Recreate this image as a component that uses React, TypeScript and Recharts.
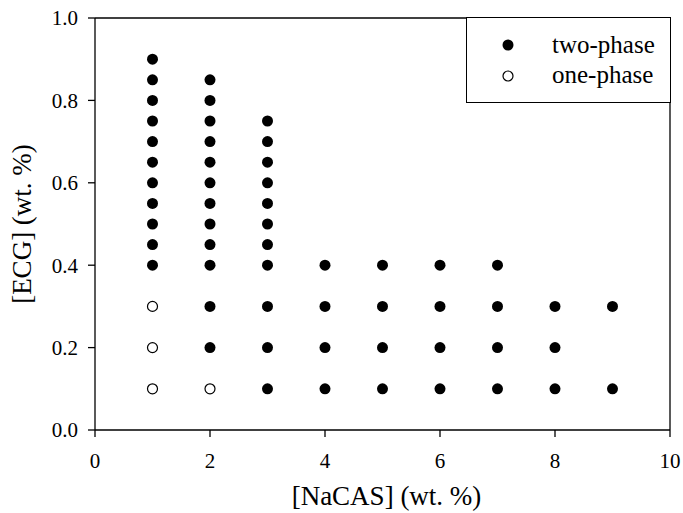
import {
  ScatterChart,
  Scatter,
  XAxis,
  YAxis,
  ReferenceLine,
  Label,
} from 'recharts';

// [NaCAS] wt.% vs [ECG] wt.% phase diagram
const twoPhaseX = [
  1, 1, 1, 1, 1, 1, 1, 1, 1, 1, 1,
  2, 2, 2, 2, 2, 2, 2, 2, 2, 2, 2, 2,
  3, 3, 3, 3, 3, 3, 3, 3, 3, 3, 3,
  4, 4, 4, 4,
  5, 5, 5, 5,
  6, 6, 6, 6,
  7, 7, 7, 7,
  8, 8, 8,
  9, 9,
];
const twoPhaseY = [
  0.4, 0.45, 0.5, 0.55, 0.6, 0.65, 0.7, 0.75, 0.8, 0.85, 0.9,
  0.2, 0.3, 0.4, 0.45, 0.5, 0.55, 0.6, 0.65, 0.7, 0.75, 0.8, 0.85,
  0.1, 0.2, 0.3, 0.4, 0.45, 0.5, 0.55, 0.6, 0.65, 0.7, 0.75,
  0.1, 0.2, 0.3, 0.4,
  0.1, 0.2, 0.3, 0.4,
  0.1, 0.2, 0.3, 0.4,
  0.1, 0.2, 0.3, 0.4,
  0.1, 0.2, 0.3,
  0.1, 0.3,
];

const onePhaseX = [1, 1, 1, 2];
const onePhaseY = [0.1, 0.2, 0.3, 0.1];

const xTicks = [0, 2, 4, 6, 8, 10];
const yTicks = [0, 0.2, 0.4, 0.6, 0.8, 1.0];

const twoPhase = twoPhaseX.map((x, i) => ({ x, y: twoPhaseY[i] }));
const onePhase = onePhaseX.map((x, i) => ({ x, y: onePhaseY[i] }));

const FONT = '"Liberation Serif", "Times New Roman", serif';
const tickStyle = { fontFamily: FONT, fontSize: 21, fill: '#000' };

function LegendBox() {
  return (
    <svg
      width={205}
      height={86}
      style={{ position: 'absolute', left: 466, top: 17 }}
    >
      <rect x={0.5} y={0.5} width={204} height={85} fill="#fff" stroke="#000" strokeWidth={1} />
      <circle cx={42} cy={28} r={5.5} fill="#000" />
      <circle cx={42} cy={59} r={5} fill="#fff" stroke="#000" strokeWidth={1.2} />
      <text x={86} y={36} fontFamily={FONT} fontSize={25}>two-phase</text>
      <text x={86} y={66} fontFamily={FONT} fontSize={25}>one-phase</text>
    </svg>
  );
}

export default function App() {
  return (
    <div style={{ position: 'absolute', left: 0, top: 0, width: 683, height: 513, background: '#fff' }}>
      <ScatterChart
        width={683}
        height={513}
        margin={{ top: 18, right: 13, left: 0, bottom: 0 }}
      >
        <XAxis
          type="number"
          dataKey="x"
          domain={[0, 10]}
          ticks={xTicks}
          tickSize={7}
          tickMargin={16}
          height={83}
          stroke="#000"
          strokeWidth={1.3}
          tick={tickStyle}
          allowDataOverflow
        >
          <Label
            content={({ viewBox }: any) => (
              <text
                x={viewBox.x + viewBox.width / 2 + 4}
                y={505}
                textAnchor="middle"
                fontFamily={FONT}
                fontSize={27}
                fill="#000"
              >
                [NaCAS] (wt. %)
              </text>
            )}
          />
        </XAxis>
        <YAxis
          type="number"
          dataKey="y"
          domain={[0, 1]}
          ticks={yTicks}
          tickFormatter={(v: number) => v.toFixed(1)}
          tickSize={7}
          tickMargin={10}
          width={95}
          stroke="#000"
          strokeWidth={1.3}
          tick={tickStyle}
          allowDataOverflow
        >
          <Label
            content={({ viewBox }: any) => {
              const cy = viewBox.y + viewBox.height / 2;
              return (
                <text
                  x={31}
                  y={cy}
                  transform={`rotate(-90, 31, ${cy})`}
                  textAnchor="middle"
                  fontFamily={FONT}
                  fontSize={27}
                  fill="#000"
                >
                  [ECG] (wt. %)
                </text>
              );
            }}
          />
        </YAxis>
        <ReferenceLine y={1} stroke="#000" strokeWidth={1.3} />
        <ReferenceLine x={10} stroke="#000" strokeWidth={1.3} />
        <Scatter
          name="two-phase"
          data={twoPhase}
          fill="#000"
          shape={(p: any) => <circle cx={p.cx} cy={p.cy} r={5.5} fill="#000" />}
          isAnimationActive={false}
        />
        <Scatter
          name="one-phase"
          data={onePhase}
          fill="#fff"
          shape={(p: any) => (
            <circle cx={p.cx} cy={p.cy} r={5} fill="#fff" stroke="#000" strokeWidth={1.2} />
          )}
          isAnimationActive={false}
        />
      </ScatterChart>
      <LegendBox />
    </div>
  );
}
